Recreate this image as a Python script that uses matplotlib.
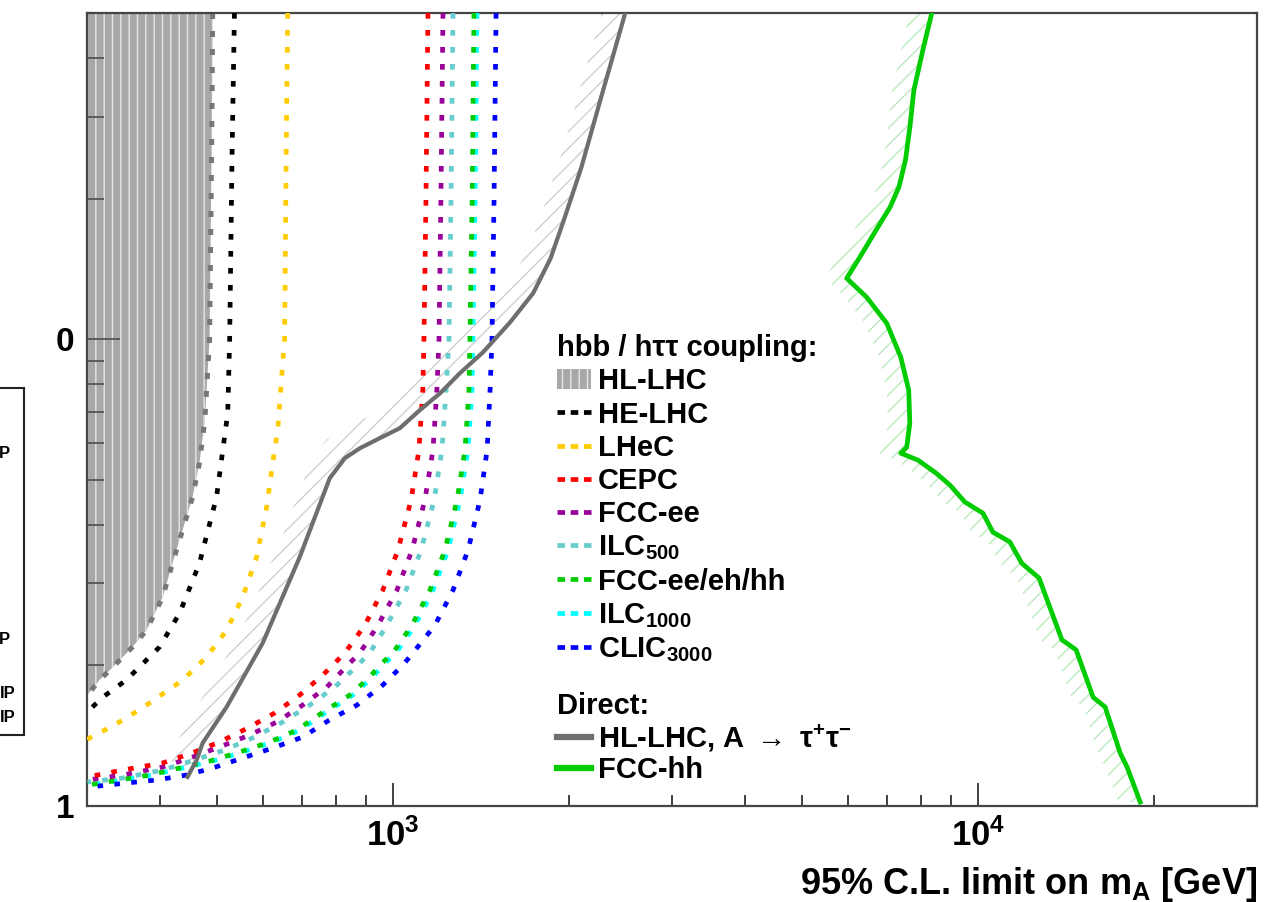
import numpy as np
import matplotlib
matplotlib.use('Agg')
import matplotlib.pyplot as plt
from matplotlib.lines import Line2D
from matplotlib.patches import Patch, Rectangle
from matplotlib.ticker import FixedLocator, LogLocator, NullFormatter

plt.rcParams['font.family'] = ['Liberation Sans', 'DejaVu Sans']
plt.rcParams['font.weight'] = 'bold'
plt.rcParams['axes.labelweight'] = 'bold'
plt.rcParams['mathtext.fontset'] = 'custom'
plt.rcParams['mathtext.rm'] = 'Liberation Sans:bold'
plt.rcParams['mathtext.bf'] = 'Liberation Sans:bold'
plt.rcParams['mathtext.it'] = 'Liberation Sans:bold'
plt.rcParams['mathtext.default'] = 'bf'
plt.rcParams['hatch.linewidth'] = 1.0

# --- hbb / htautau coupling reach (m_A in GeV, tan beta) ---
hllhc_mA = [492, 490, 486, 477, 467, 454.5, 437, 420, 404, 379, 358.7, 331.6, 315, 302.8, 300]
hllhc_tb = [50, 25.4, 10, 6.71, 5.43, 4.59, 3.90, 3.31, 2.80, 2.38, 2.19, 1.98, 1.86, 1.75, 1.73]

helhc_mA = [536, 531, 526, 522, 499.5, 467, 432, 399, 350, 319, 305, 300]
helhc_tb = [50, 25, 10, 6.94, 4.59, 3.31, 2.59, 2.19, 1.86, 1.71, 1.62, 1.59]

lhec_mA = [661, 657, 653, 648, 635.5, 623, 608.4, 584.8, 553.5, 519.6, 480.3, 437, 383.7, 350.4, 315, 302.8, 300]
lhec_tb = [50, 25, 10, 8.88, 6.38, 5.43, 4.37, 3.41, 2.80, 2.38, 2.085, 1.86, 1.662, 1.543, 1.433, 1.398, 1.385]

cepc_mA = [1148, 1139, 1130, 1125, 1108, 1074, 1020, 961, 895.5, 827.6, 759, 693, 628, 564.6, 505.5, 452.7, 403.9, 344.9, 300.6]
cepc_tb = [50, 19.84, 10, 7.78, 5.79, 4.52, 3.53, 2.90, 2.44, 2.127, 1.908, 1.729, 1.582, 1.469, 1.371, 1.298, 1.236, 1.194, 1.154]

fccee_mA = [1218, 1208, 1199, 1189, 1171, 1134, 1078, 1016, 943, 878, 837, 771, 701, 633, 569, 505.5, 454.5, 404, 345, 300.6]
fccee_tb = [50, 19.84, 10, 7.78, 5.79, 4.52, 3.53, 2.90, 2.44, 2.127, 2.004, 1.798, 1.645, 1.513, 1.419, 1.338, 1.273, 1.212, 1.165, 1.137]

ilc500_mA = [1267, 1257, 1247, 1233, 1213, 1176, 1117, 1053, 976.5, 913, 871, 795.6, 721, 648, 580, 515.6, 458, 404, 345, 300.6]
ilc500_tb = [50, 19.84, 10, 7.78, 5.79, 4.52, 3.53, 2.90, 2.44, 2.127, 2.004, 1.798, 1.645, 1.513, 1.405, 1.318, 1.254, 1.194, 1.148, 1.126]

fccall_mA = [1376, 1366, 1354, 1349, 1328, 1287, 1227, 1157, 1078, 1000, 950, 913, 844, 756, 684.7, 615.6, 547, 486, 431.8, 383.7, 340.8, 300.6]
fccall_tb = [50, 19.84, 10, 7.78, 5.79, 4.52, 3.53, 2.90, 2.44, 2.127, 2.004, 1.889, 1.729, 1.582, 1.454, 1.371, 1.305, 1.248, 1.206, 1.165, 1.137, 1.109]

ilc1000_mA = [1392, 1382, 1370, 1365, 1344, 1302, 1242, 1171, 1091, 1012, 961, 924, 854, 765, 693, 623, 554, 492, 437, 388, 345, 304]
ilc1000_tb = [50, 19.84, 10, 7.78, 5.79, 4.52, 3.53, 2.90, 2.44, 2.127, 2.004, 1.889, 1.729, 1.582, 1.454, 1.371, 1.305, 1.248, 1.206, 1.165, 1.137, 1.109]

clic_mA = [1501, 1489, 1477, 1466, 1449, 1409, 1344, 1267, 1180, 1082, 1040, 961, 868, 780, 701, 623, 553.5, 491.8, 444, 394.5, 350.4, 315, 300.6]
clic_tb = [50, 19.84, 10, 7.78, 5.79, 4.52, 3.53, 2.90, 2.44, 2.127, 2.004, 1.816, 1.645, 1.53, 1.405, 1.331, 1.267, 1.206, 1.165, 1.137, 1.12, 1.104, 1.093]

# --- direct searches ---
ditau_mA = [445.6, 461.8, 472.9, 519.6, 599, 693, 780, 827.6, 878, 950, 1028, 1112, 1204, 1302, 1426, 1586, 1737, 1860, 1960, 2100, 2262, 2496]
ditau_tb = [1.154, 1.254, 1.364, 1.629, 2.234, 3.414, 5.04, 5.56, 5.84, 6.14, 6.45, 7.05, 7.66, 8.46, 9.38, 10.87, 12.55, 14.9, 18.0, 23.35, 32.5, 50]

fcchh_mA = [8341, 8051, 7771, 7650, 7520, 7330, 7080, 6743, 6281, 5967, 6455, 6986, 7383, 7617, 7650, 7557,
            7383, 7896, 8476, 8959, 9501, 10200, 10610, 11340, 11890, 12720, 13920, 14720, 15740, 16500,
            17510, 17990, 18940]
fcchh_tb = [50, 41.6, 34.1, 28.4, 24.2, 21.2, 19.2, 17.37, 14.98, 13.51, 12.3, 10.82, 9.15, 7.78, 6.61, 5.87,
            5.70, 5.51, 5.17, 4.87, 4.48, 4.24, 3.86, 3.68, 3.31, 3.08, 2.27, 2.16, 1.71, 1.63,
            1.298, 1.212, 1.02]

dotted = (0, (1.2, 2.4))
leg_dash = (0, (1.6, 1.2))

fig = plt.figure(figsize=(12.66, 9.02), dpi=100)
ax = fig.add_axes([87/1266, 1 - 806/902, (1257 - 87)/1266, (806 - 13)/902])
ax.set_xscale('log')
ax.set_yscale('log')

# HL-LHC coupling region
ax.fill_betweenx(hllhc_tb, 300, hllhc_mA, facecolor='#a8a8a8', edgecolor='#e6e6e6',
                 hatch='||', linewidth=0, zorder=1)
ax.plot(hllhc_mA, hllhc_tb, color='#777777', lw=3.6, ls=dotted, zorder=2)

curves = [
    (helhc_mA, helhc_tb, '#000000'),
    (lhec_mA, lhec_tb, '#ffcc00'),
    (ilc1000_mA, ilc1000_tb, '#00ffff'),
    (clic_mA, clic_tb, '#0000ff'),
    (fccall_mA, fccall_tb, '#00cc00'),
    (ilc500_mA, ilc500_tb, '#66cccc'),
    (fccee_mA, fccee_tb, '#990099'),
    (cepc_mA, cepc_tb, '#ff0000'),
]
for xs, ys, c in curves:
    ax.plot(xs, ys, color=c, lw=3.4, ls=dotted, zorder=3)

# direct search exclusions with hatched side
dmA = np.array(ditau_mA)
dtb = np.array(ditau_tb)
ax.fill(np.concatenate([dmA, dmA[::-1] / 1.075]), np.concatenate([dtb, dtb[::-1] * 1.095]),
        facecolor='none', edgecolor='#cfcfcf', hatch='//', linewidth=0, zorder=2)
ax.plot(ditau_mA, ditau_tb, color='#6e6e6e', lw=3.0, zorder=4)

fmA = np.array(fcchh_mA)
ax.fill_betweenx(fcchh_tb, fmA / 1.09, fmA, facecolor='none', edgecolor='#bde8bd',
                 hatch='//', linewidth=0, zorder=2)
ax.plot(fcchh_mA, fcchh_tb, color='#00cc00', lw=3.4, zorder=4)

ax.set_xlim(300, 30000)
ax.set_ylim(1, 50)

# axes styling
for s in ax.spines.values():
    s.set_color('#444444')
    s.set_linewidth(1.6)
ax.xaxis.set_minor_formatter(NullFormatter())
ax.yaxis.set_major_locator(FixedLocator([1, 10]))
ax.yaxis.set_minor_locator(LogLocator(base=10, subs=range(2, 10)))
ax.yaxis.set_minor_formatter(NullFormatter())
ax.set_yticklabels(['1', '0'])
ax.tick_params(axis='x', which='major', direction='in', length=16.5, width=1.3, labelsize=25, pad=9,
               color='#333333')
ax.tick_params(axis='x', which='minor', direction='in', length=8, width=1.3, color='#333333')
ax.tick_params(axis='y', which='major', direction='in', length=24, width=1.3, labelsize=24, pad=9,
               color='#555555')
ax.tick_params(axis='y', which='minor', direction='in', length=12, width=1.3, color='#555555')
ax.set_xlabel('95% C.L. limit on m$_{A}$ [GeV]', fontsize=26, fontweight='bold', loc='right', labelpad=9)

# legends
h1 = [Patch(facecolor='#a8a8a8', edgecolor='#e6e6e6', hatch='||', linewidth=0)]
l1 = ['HL-LHC']
for name, c in [('HE-LHC', '#000000'), ('LHeC', '#ffcc00'), ('CEPC', '#ff0000'),
                ('FCC-ee', '#990099'), ('ILC$_{500}$', '#66cccc'), ('FCC-ee/eh/hh', '#00cc00'),
                ('ILC$_{1000}$', '#00ffff'), ('CLIC$_{3000}$', '#0000ff')]:
    h1.append(Line2D([], [], color=c, lw=3.4, ls=leg_dash))
    l1.append(name)

leg1 = ax.legend(h1, l1, title='hbb / hττ coupling:', loc='upper left',
                 bbox_to_anchor=(557/1266, 1 - 334/902), bbox_transform=fig.transFigure,
                 frameon=False, prop={'weight': 'bold', 'size': 21},
                 title_fontproperties={'weight': 'bold', 'size': 21},
                 handlelength=1.15, handletextpad=0.24, labelspacing=0.18,
                 borderpad=0, borderaxespad=0, alignment='left')
ax.add_artist(leg1)

h2 = [Line2D([], [], color='#6e6e6e', lw=4.5), Line2D([], [], color='#00cc00', lw=4.5)]
l2 = ['HL-LHC, A $\\rightarrow$ τ$^{+}$τ$^{-}$', 'FCC-hh']
ax.legend(h2, l2, title='Direct:', loc='upper left',
          bbox_to_anchor=(557/1266, 1 - 692/902), bbox_transform=fig.transFigure,
          frameon=False, prop={'weight': 'bold', 'size': 21},
          title_fontproperties={'weight': 'bold', 'size': 21},
          handlelength=1.15, handletextpad=0.24, labelspacing=0.08,
          borderpad=0, borderaxespad=0, alignment='left')

# fragment of neighbouring panel legend at the left border
fig.add_artist(Rectangle((-0.01, 1 - 735/902), 0.01 + 24/1266, (735 - 388)/902,
                         transform=fig.transFigure, facecolor='none', edgecolor='#222222', lw=1.5))
for txt, xr, yc in [('P', 10, 453), ('P', 10, 640), ('IP', 16, 693), ('IP', 16, 718)]:
    fig.text(xr/1266, 1 - yc/902, txt, ha='right', va='center', fontsize=12, weight='bold')

fig.savefig('out.png', dpi=100)
